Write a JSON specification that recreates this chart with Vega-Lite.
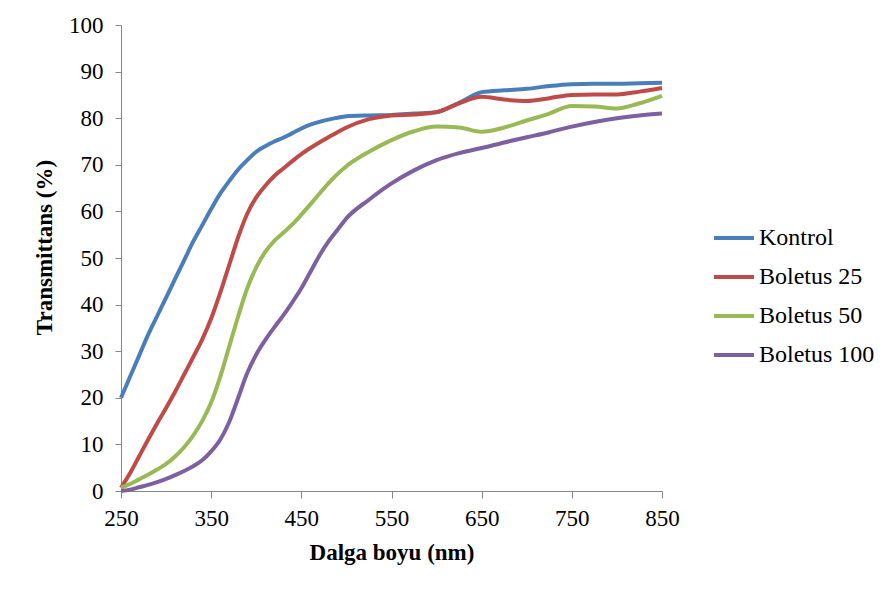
{
  "$schema": "https://vega.github.io/schema/vega-lite/v6.json",
  "width": 541,
  "height": 466,
  "autosize": {"type": "none"},
  "padding": {"left": 121, "top": 25, "right": 229, "bottom": 102},
  "background": "white",
  "config": {
    "view": {"stroke": null},
    "font": "Times New Roman, Liberation Serif, serif"
  },
  "data": {
    "values": [
      {"nm":250,"s":"Kontrol","T":20},{"nm":260,"s":"Kontrol","T":24.5},{"nm":270,"s":"Kontrol","T":29},{"nm":280,"s":"Kontrol","T":33.5},{"nm":290,"s":"Kontrol","T":37.5},{"nm":300,"s":"Kontrol","T":41.5},{"nm":310,"s":"Kontrol","T":45.5},{"nm":320,"s":"Kontrol","T":49.5},{"nm":330,"s":"Kontrol","T":53.5},{"nm":340,"s":"Kontrol","T":57},{"nm":350,"s":"Kontrol","T":60.5},{"nm":360,"s":"Kontrol","T":63.8},{"nm":370,"s":"Kontrol","T":66.5},{"nm":380,"s":"Kontrol","T":69},{"nm":390,"s":"Kontrol","T":71},{"nm":400,"s":"Kontrol","T":72.8},{"nm":410,"s":"Kontrol","T":74},{"nm":420,"s":"Kontrol","T":75},{"nm":430,"s":"Kontrol","T":75.8},{"nm":440,"s":"Kontrol","T":76.8},{"nm":450,"s":"Kontrol","T":77.8},{"nm":460,"s":"Kontrol","T":78.6},{"nm":470,"s":"Kontrol","T":79.2},{"nm":480,"s":"Kontrol","T":79.7},{"nm":490,"s":"Kontrol","T":80.1},{"nm":500,"s":"Kontrol","T":80.4},{"nm":525,"s":"Kontrol","T":80.6},{"nm":550,"s":"Kontrol","T":80.7},{"nm":575,"s":"Kontrol","T":81},{"nm":600,"s":"Kontrol","T":81.3},{"nm":625,"s":"Kontrol","T":83.3},{"nm":650,"s":"Kontrol","T":85.6},{"nm":675,"s":"Kontrol","T":86},{"nm":700,"s":"Kontrol","T":86.3},{"nm":725,"s":"Kontrol","T":86.9},{"nm":750,"s":"Kontrol","T":87.3},{"nm":775,"s":"Kontrol","T":87.4},{"nm":800,"s":"Kontrol","T":87.4},{"nm":825,"s":"Kontrol","T":87.5},{"nm":850,"s":"Kontrol","T":87.6},
      {"nm":250,"s":"Boletus 25","T":0.7},{"nm":260,"s":"Boletus 25","T":3.8},{"nm":270,"s":"Boletus 25","T":7.4},{"nm":280,"s":"Boletus 25","T":11},{"nm":290,"s":"Boletus 25","T":14.5},{"nm":300,"s":"Boletus 25","T":17.8},{"nm":310,"s":"Boletus 25","T":21.3},{"nm":320,"s":"Boletus 25","T":25},{"nm":330,"s":"Boletus 25","T":28.7},{"nm":340,"s":"Boletus 25","T":32.5},{"nm":350,"s":"Boletus 25","T":37},{"nm":360,"s":"Boletus 25","T":42.5},{"nm":370,"s":"Boletus 25","T":48.5},{"nm":380,"s":"Boletus 25","T":54.5},{"nm":390,"s":"Boletus 25","T":59.5},{"nm":400,"s":"Boletus 25","T":63},{"nm":410,"s":"Boletus 25","T":65.5},{"nm":420,"s":"Boletus 25","T":67.6},{"nm":430,"s":"Boletus 25","T":69.2},{"nm":440,"s":"Boletus 25","T":70.8},{"nm":450,"s":"Boletus 25","T":72.3},{"nm":460,"s":"Boletus 25","T":73.6},{"nm":470,"s":"Boletus 25","T":74.8},{"nm":480,"s":"Boletus 25","T":75.9},{"nm":490,"s":"Boletus 25","T":77},{"nm":500,"s":"Boletus 25","T":78},{"nm":525,"s":"Boletus 25","T":79.8},{"nm":550,"s":"Boletus 25","T":80.6},{"nm":575,"s":"Boletus 25","T":80.8},{"nm":600,"s":"Boletus 25","T":81.3},{"nm":625,"s":"Boletus 25","T":83.2},{"nm":650,"s":"Boletus 25","T":84.6},{"nm":675,"s":"Boletus 25","T":84},{"nm":700,"s":"Boletus 25","T":83.7},{"nm":725,"s":"Boletus 25","T":84.3},{"nm":750,"s":"Boletus 25","T":85},{"nm":775,"s":"Boletus 25","T":85.1},{"nm":800,"s":"Boletus 25","T":85.1},{"nm":825,"s":"Boletus 25","T":85.7},{"nm":850,"s":"Boletus 25","T":86.5},
      {"nm":250,"s":"Boletus 50","T":0.7},{"nm":260,"s":"Boletus 50","T":1.5},{"nm":270,"s":"Boletus 50","T":2.5},{"nm":280,"s":"Boletus 50","T":3.5},{"nm":290,"s":"Boletus 50","T":4.6},{"nm":300,"s":"Boletus 50","T":5.8},{"nm":310,"s":"Boletus 50","T":7.4},{"nm":320,"s":"Boletus 50","T":9.4},{"nm":330,"s":"Boletus 50","T":11.9},{"nm":340,"s":"Boletus 50","T":15},{"nm":350,"s":"Boletus 50","T":19},{"nm":360,"s":"Boletus 50","T":24.5},{"nm":370,"s":"Boletus 50","T":31},{"nm":380,"s":"Boletus 50","T":37.5},{"nm":390,"s":"Boletus 50","T":43.5},{"nm":400,"s":"Boletus 50","T":48},{"nm":410,"s":"Boletus 50","T":51.3},{"nm":420,"s":"Boletus 50","T":53.7},{"nm":430,"s":"Boletus 50","T":55.4},{"nm":440,"s":"Boletus 50","T":57.2},{"nm":450,"s":"Boletus 50","T":59.3},{"nm":460,"s":"Boletus 50","T":61.5},{"nm":470,"s":"Boletus 50","T":63.8},{"nm":480,"s":"Boletus 50","T":66},{"nm":490,"s":"Boletus 50","T":68},{"nm":500,"s":"Boletus 50","T":69.7},{"nm":525,"s":"Boletus 50","T":72.8},{"nm":550,"s":"Boletus 50","T":75.3},{"nm":575,"s":"Boletus 50","T":77.2},{"nm":600,"s":"Boletus 50","T":78.2},{"nm":625,"s":"Boletus 50","T":78},{"nm":650,"s":"Boletus 50","T":77.1},{"nm":675,"s":"Boletus 50","T":78},{"nm":700,"s":"Boletus 50","T":79.5},{"nm":725,"s":"Boletus 50","T":81},{"nm":750,"s":"Boletus 50","T":82.6},{"nm":775,"s":"Boletus 50","T":82.5},{"nm":800,"s":"Boletus 50","T":82.1},{"nm":825,"s":"Boletus 50","T":83.2},{"nm":850,"s":"Boletus 50","T":84.8},
      {"nm":250,"s":"Boletus 100","T":0},{"nm":260,"s":"Boletus 100","T":0.3},{"nm":270,"s":"Boletus 100","T":0.8},{"nm":280,"s":"Boletus 100","T":1.3},{"nm":290,"s":"Boletus 100","T":1.9},{"nm":300,"s":"Boletus 100","T":2.6},{"nm":310,"s":"Boletus 100","T":3.4},{"nm":320,"s":"Boletus 100","T":4.3},{"nm":330,"s":"Boletus 100","T":5.3},{"nm":340,"s":"Boletus 100","T":6.6},{"nm":350,"s":"Boletus 100","T":8.5},{"nm":360,"s":"Boletus 100","T":11},{"nm":370,"s":"Boletus 100","T":14.8},{"nm":380,"s":"Boletus 100","T":20},{"nm":390,"s":"Boletus 100","T":25.3},{"nm":400,"s":"Boletus 100","T":29.3},{"nm":410,"s":"Boletus 100","T":32.4},{"nm":420,"s":"Boletus 100","T":35.1},{"nm":430,"s":"Boletus 100","T":37.7},{"nm":440,"s":"Boletus 100","T":40.5},{"nm":450,"s":"Boletus 100","T":43.5},{"nm":460,"s":"Boletus 100","T":47},{"nm":470,"s":"Boletus 100","T":50.5},{"nm":480,"s":"Boletus 100","T":53.5},{"nm":490,"s":"Boletus 100","T":56},{"nm":500,"s":"Boletus 100","T":58.5},{"nm":525,"s":"Boletus 100","T":62.5},{"nm":550,"s":"Boletus 100","T":66},{"nm":575,"s":"Boletus 100","T":68.8},{"nm":600,"s":"Boletus 100","T":71},{"nm":625,"s":"Boletus 100","T":72.5},{"nm":650,"s":"Boletus 100","T":73.6},{"nm":675,"s":"Boletus 100","T":74.8},{"nm":700,"s":"Boletus 100","T":75.9},{"nm":725,"s":"Boletus 100","T":77},{"nm":750,"s":"Boletus 100","T":78.2},{"nm":775,"s":"Boletus 100","T":79.2},{"nm":800,"s":"Boletus 100","T":80},{"nm":825,"s":"Boletus 100","T":80.6},{"nm":850,"s":"Boletus 100","T":81}
    ]
  },
  "mark": {"type": "line", "strokeWidth": 4, "interpolate": "monotone", "clip": false},
  "encoding": {
    "x": {
      "field": "nm", "type": "quantitative",
      "scale": {"domain": [250, 850], "nice": false, "zero": false},
      "axis": {
        "title": "Dalga boyu (nm)",
        "values": [250, 350, 450, 550, 650, 750, 850],
        "grid": false, "labelFlush": false,
        "domainColor": "#868686", "tickColor": "#868686", "tickSize": 7,
        "labelFont": "Times New Roman, Liberation Serif, serif", "labelFontSize": 23, "labelColor": "#000000", "labelPadding": 9,
        "titleFont": "Times New Roman, Liberation Serif, serif", "titleFontSize": 23, "titleFontWeight": "bold", "titleColor": "#000000", "titlePadding": 11
      }
    },
    "y": {
      "field": "T", "type": "quantitative",
      "scale": {"domain": [0, 100], "nice": false},
      "axis": {
        "title": "Transmittans  (%)",
        "values": [0, 10, 20, 30, 40, 50, 60, 70, 80, 90, 100],
        "grid": false, "labelFlush": false,
        "domainColor": "#868686", "tickColor": "#868686", "tickSize": 6,
        "labelFont": "Times New Roman, Liberation Serif, serif", "labelFontSize": 23, "labelColor": "#000000", "labelPadding": 12,
        "titleFont": "Times New Roman, Liberation Serif, serif", "titleFontSize": 23, "titleFontWeight": "bold", "titleColor": "#000000", "titlePadding": 12,
        "titleY": 222
      }
    },
    "color": {
      "field": "s", "type": "nominal",
      "scale": {
        "domain": ["Kontrol", "Boletus 25", "Boletus 50", "Boletus 100"],
        "range": ["#4A7EBB", "#BE4B48", "#98B954", "#7D60A0"]
      },
      "legend": {
        "title": null,
        "orient": "none",
        "legendX": 591,
        "legendY": 191,
        "symbolType": "stroke",
        "symbolSize": 1600,
        "symbolStrokeWidth": 4,
        "labelFont": "Times New Roman, Liberation Serif, serif",
        "labelFontSize": 24,
        "labelColor": "#000000",
        "labelOffset": 3,
        "rowPadding": 5,
        "labelLimit": 300
      }
    }
  }
}
